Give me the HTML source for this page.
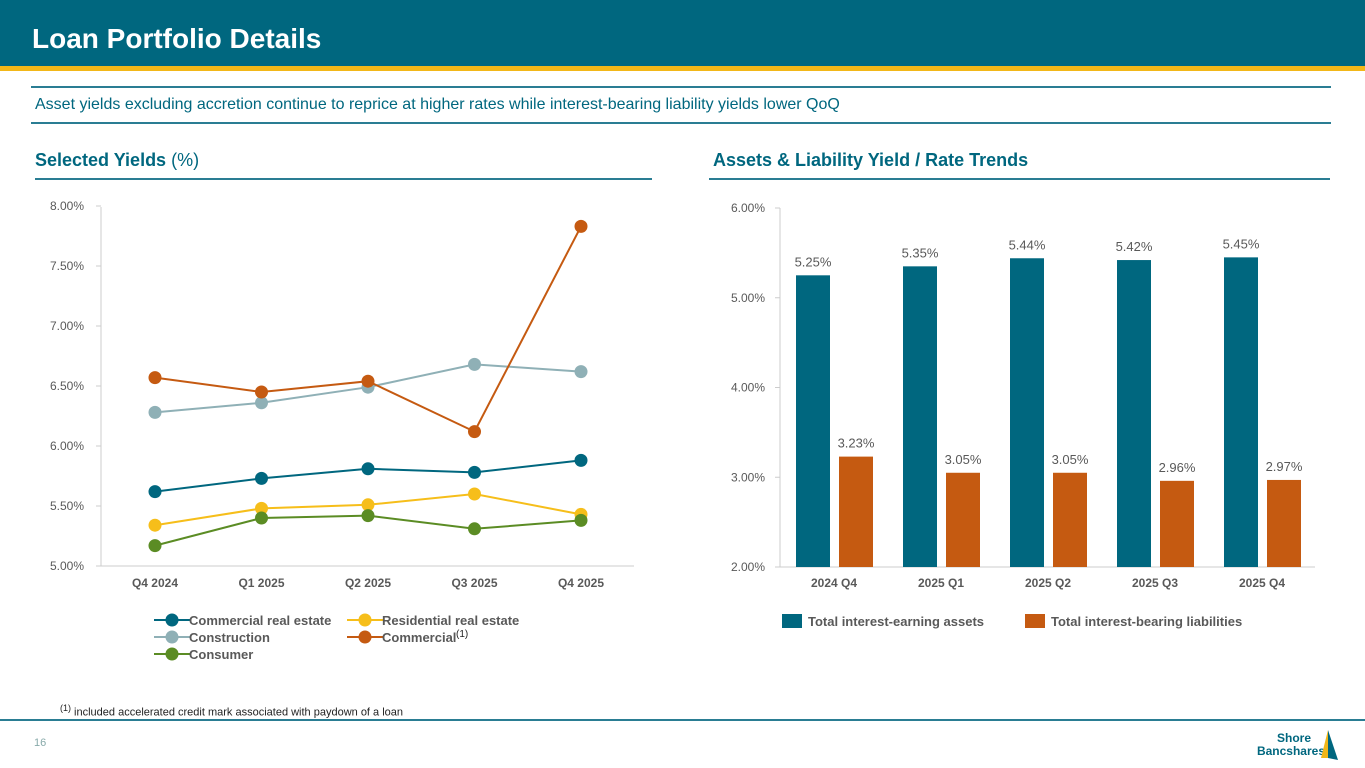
<!DOCTYPE html>
<html><head><meta charset="utf-8"><style>
body{margin:0;width:1365px;height:768px;position:relative;font-family:"Liberation Sans",Arial,sans-serif;background:#fff;overflow:hidden}
.abs{position:absolute}
</style></head><body>
<div class="abs" style="left:0;top:0;width:1365px;height:66px;background:#00677f"></div>
<div class="abs" style="left:0;top:66px;width:1365px;height:5px;background:#f2b718"></div>
<div class="abs" style="left:32px;top:23px;font-size:28px;font-weight:bold;color:#fff">Loan Portfolio Details</div>
<div class="abs" style="left:31px;top:86px;width:1300px;height:2px;background:#2a7d93"></div>
<div class="abs" style="left:35px;top:96px;font-size:16px;color:#00677f">Asset yields excluding accretion continue to reprice at higher rates while interest-bearing liability yields lower QoQ</div>
<div class="abs" style="left:31px;top:122px;width:1300px;height:2px;background:#2a7d93"></div>
<div class="abs" style="left:35px;top:150px;font-size:18px;font-weight:bold;color:#00677f">Selected Yields <span style="font-weight:normal">(%)</span></div>
<div class="abs" style="left:35px;top:178px;width:617px;height:2px;background:#2a7d93"></div>
<div class="abs" style="left:713px;top:150px;font-size:18px;font-weight:bold;color:#00677f">Assets &amp; Liability Yield / Rate Trends</div>
<div class="abs" style="left:709px;top:178px;width:621px;height:2px;background:#2a7d93"></div>
<svg class="abs" style="left:0;top:0" width="1365" height="768" id="svg"></svg>
<div class="abs" style="left:60px;top:703px;font-size:11px;color:#222"><sup style="font-size:9px">(1)</sup> included accelerated credit mark associated with paydown of a loan</div>
<div class="abs" style="left:0;top:719px;width:1365px;height:2px;background:#2a7d93"></div>
<div class="abs" style="left:34px;top:737px;font-size:11px;color:#8aa">16</div>
<div class="abs" style="left:1255px;top:732px;font-size:12px;font-weight:bold;color:#00677f;line-height:13px;text-align:right;width:70px"><span style="padding-right:14px">Shore</span><br>Bancshares</div>
<svg class="abs" style="left:1318px;top:728px" width="22" height="34"><polygon points="10,2 3,30 10,30" fill="#f2b718"/><polygon points="10,2 20,32 10,30" fill="#00677f"/></svg>
<script>
const lineCats=["Q4 2024","Q1 2025","Q2 2025","Q3 2025","Q4 2025"];
const creVals=[5.62,5.73,5.81,5.78,5.88];
const resVals=[5.34,5.48,5.51,5.60,5.43];
const conVals=[6.28,6.36,6.49,6.68,6.62];
const comVals=[6.57,6.45,6.54,6.12,7.83];
const cnsVals=[5.17,5.40,5.42,5.31,5.38];
const lineTicks=["5.00%","5.50%","6.00%","6.50%","7.00%","7.50%","8.00%"];
const barCats=["2024 Q4","2025 Q1","2025 Q2","2025 Q3","2025 Q4"];
const assetVals=[5.25,5.35,5.44,5.42,5.45];
const liabVals=[3.23,3.05,3.05,2.96,2.97];
const barTicks=["2.00%","3.00%","4.00%","5.00%","6.00%"];
const NS="http://www.w3.org/2000/svg",svg=document.getElementById('svg');
function mk(t,a,p){const e=document.createElementNS(NS,t);for(const k in a)e.setAttribute(k,a[k]);(p||svg).appendChild(e);return e;}
function tx(x,y,s,a){const e=mk('text',Object.assign({x:x,y:y,'font-size':12,fill:'#595959','font-family':'Liberation Sans, Arial, sans-serif'},a||{}));e.textContent=s;return e;}
// line chart
const ly=v=>566-(v-5)*120, lx=i=>155+i*106.5;
mk('line',{x1:101,y1:207,x2:101,y2:566,stroke:'#ccc'});
mk('line',{x1:101,y1:566,x2:634,y2:566,stroke:'#ccc'});
lineTicks.forEach((t,i)=>{const v=5+i*0.5;mk('line',{x1:96,y1:ly(v),x2:101,y2:ly(v),stroke:'#ccc'});const e=tx(84,ly(v)+4,t,{'text-anchor':'end'});});
lineCats.forEach((c,i)=>{const e=tx(lx(i),587,c,{'text-anchor':'middle','font-weight':'bold'});});
const series=[["commercial-real-estate",creVals,"#00677f"],["construction",conVals,"#8fb0b6"],["residential-real-estate",resVals,"#f6be1a"],["commercial",comVals,"#c55a11"],["consumer",cnsVals,"#5b8c24"]];
series.forEach(([n,vals,col])=>{
 const p=mk('polyline',{points:vals.map((v,i)=>lx(i)+','+ly(v)).join(' '),fill:'none',stroke:col,'stroke-width':2});
 
 vals.forEach((v,i)=>{const c=mk('circle',{cx:lx(i),cy:ly(v),r:6.5,fill:col});});
});
const leg=[["Commercial real estate","#00677f",172,620],["Residential real estate","#f6be1a",365,620],["Construction","#8fb0b6",172,637],["Commercial","#c55a11",365,637],["Consumer","#5b8c24",172,654]];
leg.forEach(([t,c,x,y])=>{mk('line',{x1:x-18,y1:y,x2:x+18,y2:y,stroke:c,'stroke-width':2});mk('circle',{cx:x,cy:y,r:6.5,fill:c});const e=tx(x+17,y+5,t,{'font-weight':'bold','font-size':13});if(t==="Commercial"){const s=tx(x+17+74,y,"(1)",{'font-size':10,'fill':'#222'});}});
// bar chart
const by=v=>567-(v-2)*89.75, bx=i=>834+i*107;
mk('line',{x1:780,y1:208,x2:780,y2:567,stroke:'#ccc'});
mk('line',{x1:780,y1:567,x2:1315,y2:567,stroke:'#ccc'});
barTicks.forEach((t,i)=>{const v=2+i;mk('line',{x1:775,y1:by(v),x2:780,y2:by(v),stroke:'#ccc'});const e=tx(765,by(v)+4,t,{'text-anchor':'end'});});
barCats.forEach((c,i)=>{const e=tx(bx(i),587,c,{'text-anchor':'middle','font-weight':'bold'});
 const a=mk('rect',{x:bx(i)-38,y:by(assetVals[i]),width:34,height:567-by(assetVals[i]),fill:'#00677f'});
 const l=mk('rect',{x:bx(i)+5,y:by(liabVals[i]),width:34,height:567-by(liabVals[i]),fill:'#c55a11'});
 tx(bx(i)-21,by(assetVals[i])-9,assetVals[i].toFixed(2)+'%',{'text-anchor':'middle','font-size':13});
 tx(bx(i)+22,by(liabVals[i])-9,liabVals[i].toFixed(2)+'%',{'text-anchor':'middle','font-size':13});
});
[["Total interest-earning assets","#00677f",782],["Total interest-bearing liabilities","#c55a11",1025]].forEach(([t,c,x])=>{mk('rect',{x:x,y:614,width:20,height:14,fill:c});const e=tx(x+26,626,t,{'font-weight':'bold','font-size':13});});
</script>
</body></html>
